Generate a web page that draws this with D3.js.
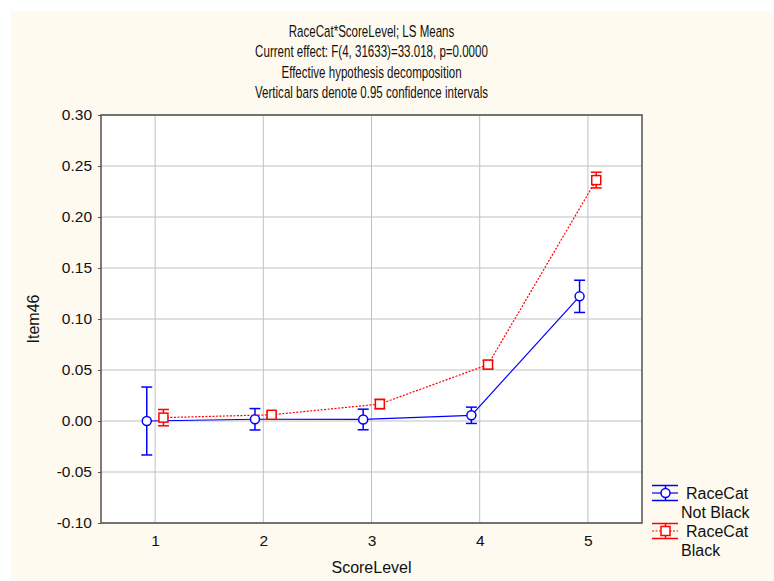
<!DOCTYPE html>
<html>
<head>
<meta charset="utf-8">
<script src="https://cdn.jsdelivr.net/npm/d3@7"></script>
<style>
  body { margin: 0; background: #fff; }
  svg { display: block; }
  text { font-family: Arial, "Liberation Sans", sans-serif; fill: #111; }
</style>
</head>
<body>
<svg id="chart"></svg>
<script>
// data
const scoreLevels = [1, 2, 3, 4, 5];
const notBlackMeans = [0.0000, 0.0017, 0.0015, 0.0056, 0.1222];
const notBlackCI = [0.0333, 0.0105, 0.0101, 0.0080, 0.0158];
const blackMeans = [0.0033, 0.0061, 0.0166, 0.0553, 0.2362];
const blackCI = [0.0080, 0.0030, 0.0046, 0.0040, 0.0077];
const yTicks = [-0.10, -0.05, 0.00, 0.05, 0.10, 0.15, 0.20, 0.25, 0.30];
const titleLines = [
    "RaceCat*ScoreLevel; LS Means",
    "Current effect: F(4, 31633)=33.018, p=0.0000",
    "Effective hypothesis decomposition",
    "Vertical bars denote 0.95 confidence intervals"
];

const width = 774, height = 581;
const svg = d3.select("#chart").attr("width", width).attr("height", height);

// cream background with white strip top/left
svg.append("rect").attr("x", 11).attr("y", 11)
    .attr("width", width - 11).attr("height", height - 11)
    .attr("fill", "#fefaef");

const plot = {left: 101, right: 642, top: 115, bottom: 523};
const x = d3.scaleLinear().domain([0.5, 5.5]).range([plot.left, plot.right]);
const y = d3.scaleLinear().domain([-0.10, 0.30]).range([plot.bottom, plot.top]);

svg.append("rect")
    .attr("x", plot.left).attr("y", plot.top)
    .attr("width", plot.right - plot.left).attr("height", plot.bottom - plot.top)
    .attr("fill", "#fff");

// grid
svg.append("g").selectAll("line").data(scoreLevels).enter().append("line")
    .attr("x1", d => x(d)).attr("x2", d => x(d))
    .attr("y1", plot.top).attr("y2", plot.bottom)
    .attr("stroke", "#c0c0c0").attr("stroke-width", 1);
svg.append("g").selectAll("line").data(yTicks).enter().append("line")
    .attr("x1", plot.left).attr("x2", plot.right)
    .attr("y1", d => y(d)).attr("y2", d => y(d))
    .attr("stroke", "#c0c0c0").attr("stroke-width", 1);

// axes
const yAxis = svg.append("g")
    .attr("transform", `translate(${plot.left},0)`)
    .call(d3.axisLeft(y).tickValues(yTicks).tickFormat(d3.format(".2f")).tickSize(3).tickPadding(6));
yAxis.select(".domain").remove();
yAxis.selectAll("line").attr("stroke", "#555");
yAxis.selectAll("text").style("font-size", "15.5px").attr("fill", "#111")
    .text(d => d3.format(".2f")(d).replace("−", "-"));

const xAxis = svg.append("g")
    .attr("transform", `translate(0,${plot.bottom})`)
    .call(d3.axisBottom(x).tickValues(scoreLevels).tickFormat(d3.format("d")).tickSize(0).tickPadding(12));
xAxis.select(".domain").remove();
xAxis.selectAll("text").style("font-size", "15.5px").attr("fill", "#111");

// frame
svg.append("rect")
    .attr("x", plot.left).attr("y", plot.top)
    .attr("width", plot.right - plot.left).attr("height", plot.bottom - plot.top)
    .attr("fill", "none").attr("stroke", "#505050").attr("stroke-width", 1.5);

// axis titles
svg.append("text").attr("x", (plot.left + plot.right) / 2).attr("y", 573)
    .attr("text-anchor", "middle").style("font-size", "16px").text("ScoreLevel");
svg.append("text")
    .attr("transform", `translate(39,${(plot.top + plot.bottom) / 2}) rotate(-90)`)
    .attr("text-anchor", "middle").style("font-size", "16px").text("Item46");

// chart title, narrow type
const titleG = svg.append("g")
    .attr("transform", `translate(${(plot.left + plot.right) / 2},0) scale(0.7,1)`);
titleG.selectAll("text").data(titleLines).enter().append("text")
    .attr("x", 0).attr("y", (d, i) => 37 + i * 20.3)
    .attr("text-anchor", "middle").style("font-size", "16.5px")
    .text(d => d);

// series
const offset = 0.077;
const series = [
    {name: "Not Black", means: notBlackMeans, ci: notBlackCI, color: "#0000ff", dx: -offset, shape: "circle", dash: null},
    {name: "Black", means: blackMeans, ci: blackCI, color: "#ff0000", dx: offset, shape: "square", dash: "2,1.5"}
];

const line = d3.line().x(d => x(d.level)).y(d => y(d.mean));

series.forEach(s => {
    const pts = scoreLevels.map((lv, i) => ({level: lv + s.dx, mean: s.means[i], ci: s.ci[i]}));
    const g = svg.append("g");
    g.append("path").datum(pts).attr("d", line)
        .attr("fill", "none").attr("stroke", s.color).attr("stroke-width", 1.2)
        .attr("stroke-dasharray", s.dash);
    const bars = g.selectAll(".err").data(pts).enter().append("g");
    bars.append("line")
        .attr("x1", d => x(d.level)).attr("x2", d => x(d.level))
        .attr("y1", d => y(d.mean + d.ci)).attr("y2", d => y(d.mean - d.ci))
        .attr("stroke", s.color).attr("stroke-width", 1.5);
    [1, -1].forEach(sign => {
        bars.append("line")
            .attr("x1", d => x(d.level) - 5.5).attr("x2", d => x(d.level) + 5.5)
            .attr("y1", d => y(d.mean + sign * d.ci)).attr("y2", d => y(d.mean + sign * d.ci))
            .attr("stroke", s.color).attr("stroke-width", 1.5);
    });
    if (s.shape === "circle") {
        g.selectAll("circle").data(pts).enter().append("circle")
            .attr("cx", d => x(d.level)).attr("cy", d => y(d.mean)).attr("r", 4.5)
            .attr("fill", "#fff").attr("stroke", s.color).attr("stroke-width", 1.5);
    } else {
        g.selectAll("rect").data(pts).enter().append("rect")
            .attr("x", d => x(d.level) - 4.5).attr("y", d => y(d.mean) - 4.5)
            .attr("width", 9).attr("height", 9)
            .attr("fill", "#fff").attr("stroke", s.color).attr("stroke-width", 1.5);
    }
});

// legend
const legend = svg.append("g").attr("transform", "translate(652,0)");
series.forEach((s, i) => {
    const cy = 493 + i * 38;
    const lg = legend.append("g");
    lg.append("line").attr("x1", 0).attr("x2", 26).attr("y1", cy).attr("y2", cy)
        .attr("stroke", s.color).attr("stroke-width", 1.2).attr("stroke-dasharray", s.dash);
    [-7.5, 7.5].forEach(d => {
        lg.append("line").attr("x1", 0).attr("x2", 26).attr("y1", cy + d).attr("y2", cy + d)
            .attr("stroke", s.color).attr("stroke-width", 1.5);
    });
    lg.append("line").attr("x1", 13.5).attr("x2", 13.5).attr("y1", cy - 7.5).attr("y2", cy + 7.5)
        .attr("stroke", s.color).attr("stroke-width", 1.5);
    if (s.shape === "circle") {
        lg.append("circle").attr("cx", 13.5).attr("cy", cy).attr("r", 4.5)
            .attr("fill", "#fff").attr("stroke", s.color).attr("stroke-width", 1.5);
    } else {
        lg.append("rect").attr("x", 9).attr("y", cy - 4.5).attr("width", 9).attr("height", 9)
            .attr("fill", "#fff").attr("stroke", s.color).attr("stroke-width", 1.5);
    }
    lg.append("text").attr("x", 34).attr("y", cy + 6).style("font-size", "16px").text("RaceCat");
    lg.append("text").attr("x", 29).attr("y", cy + 25).style("font-size", "16px").text(s.name);
});
</script>
</body>
</html>
